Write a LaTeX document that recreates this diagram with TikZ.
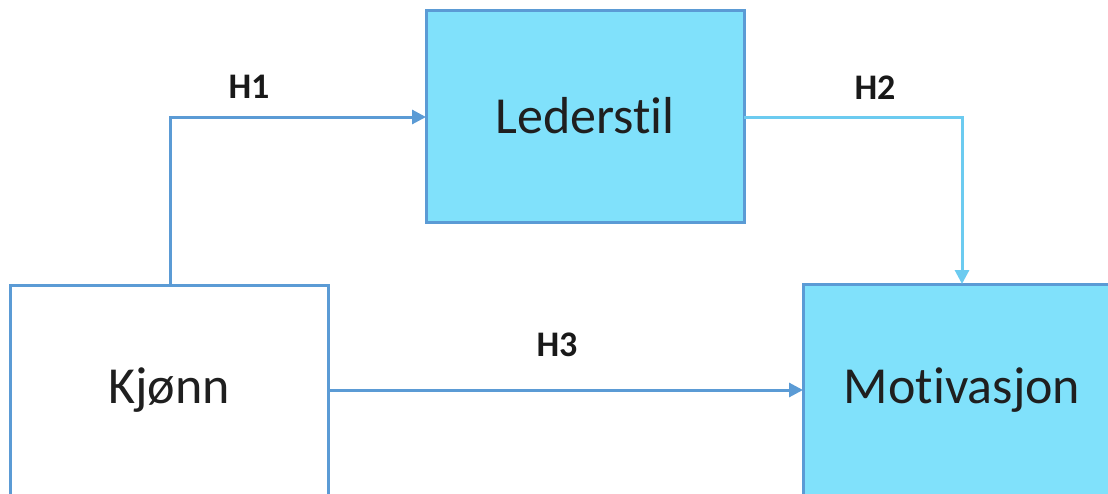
\documentclass[tikz,border=0pt]{standalone}
\usepackage{fontspec}
\setmainfont[RawFeature=-liga]{Carlito}
\usetikzlibrary{arrows.meta}
\definecolor{boxfill}{HTML}{80E1FB}
\definecolor{boxline}{HTML}{5B9BD5}
\definecolor{hline}{HTML}{6CCBF0}
\tikzset{
  box/.style={draw=boxline, line width=3pt, minimum width=#1, inner sep=0pt},
  boxtext/.style={font=\fontsize{52}{60}\selectfont, text=black!88},
  conn/.style={draw=boxline, line width=3pt, -{Triangle[length=14pt,width=14pt]}},
  hlabel/.style={font=\fontsize{36}{40}\selectfont\bfseries, text=black!90}
}
\begin{document}
\begin{tikzpicture}[x=1pt,y=-1pt]
\useasboundingbox (0,0) rectangle (1108,493);
\begin{scope}
\clip (0,0) rectangle (1108,493);
% boxes
\node[box=318pt, minimum height=212pt, fill=boxfill] (led) at (585,116) {};
\node[boxtext] (ledt) at (led.center) {Lederstil};
\node[box=318pt, minimum height=260pt, fill=white] (kj) at (169,415) {};
\node[boxtext] (kjt) at (169,390) {Kjønn};
\node[box=330pt, minimum height=260pt, fill=boxfill] (mot) at (968,414) {};
\node[boxtext] (mott) at (962,390) {Motivasjon};
\end{scope}
% connectors
\coordinate (k1) at (170,285);
\coordinate (c1) at (170,117);
\coordinate (l1) at (426,117);
\draw[conn] (k1) -- (c1) -- (l1);
\coordinate (l2) at (744,117);
\coordinate (c2) at (962,117);
\coordinate (m2) at (962,284);
\draw[conn, draw=hline] (l2) -- (c2) -- (m2);
\coordinate (k3) at (328,390);
\coordinate (m3) at (803,390);
\draw[conn] (k3) -- (m3);
% labels
\node[hlabel] (h1) at (249,87) {H1};
\node[hlabel] (h2) at (875,88) {H2};
\node[hlabel] (h3) at (557,345) {H3};
\end{tikzpicture}
\end{document}
